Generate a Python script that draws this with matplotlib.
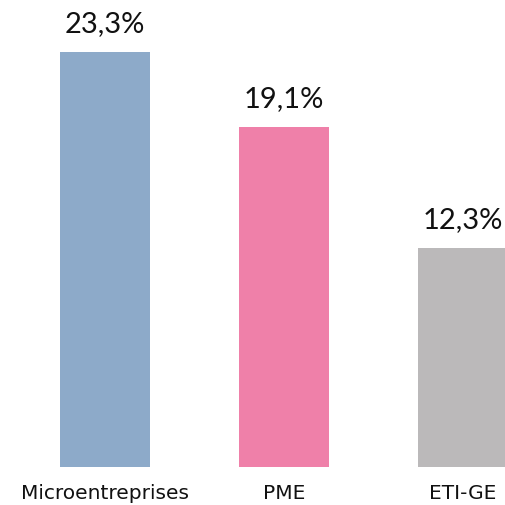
import matplotlib
matplotlib.use("Agg")
import matplotlib.pyplot as plt

categories = ["Microentreprises", "PME", "ETI-GE"]
values = [23.3, 19.1, 12.3]
labels = ["23,3%", "19,1%", "12,3%"]
colors = ["#8DAAC9", "#EF80A9", "#BBB9BA"]

plt.rcParams['font.family'] = ['Lato', 'DejaVu Sans']
fig = plt.figure(figsize=(5.05, 5.05), dpi=100)
ax = fig.add_axes([0, 38/505, 1, 1 - 38/505])
x = range(len(categories))
bars = ax.bar(x, values, width=0.503, color=colors)
ax.set_xlim(-0.587, 2.235)
ax.set_ylim(0, 23.3 * (467 / 415))
for xi, v, lab in zip(x, values, labels):
    ax.annotate(lab, (xi, v), xytext=(0, 15), textcoords='offset pixels',
                ha='center', va='bottom', fontsize=21, color='#111111')
ax.set_xticks(list(x))
ax.set_xticklabels(categories, fontsize=14.5, color='#111111', family='DejaVu Sans')
ax.tick_params(axis='x', length=0, pad=12)
ax.set_yticks([])
for s in ax.spines.values():
    s.set_visible(False)
fig.savefig("out.png", dpi=100)
